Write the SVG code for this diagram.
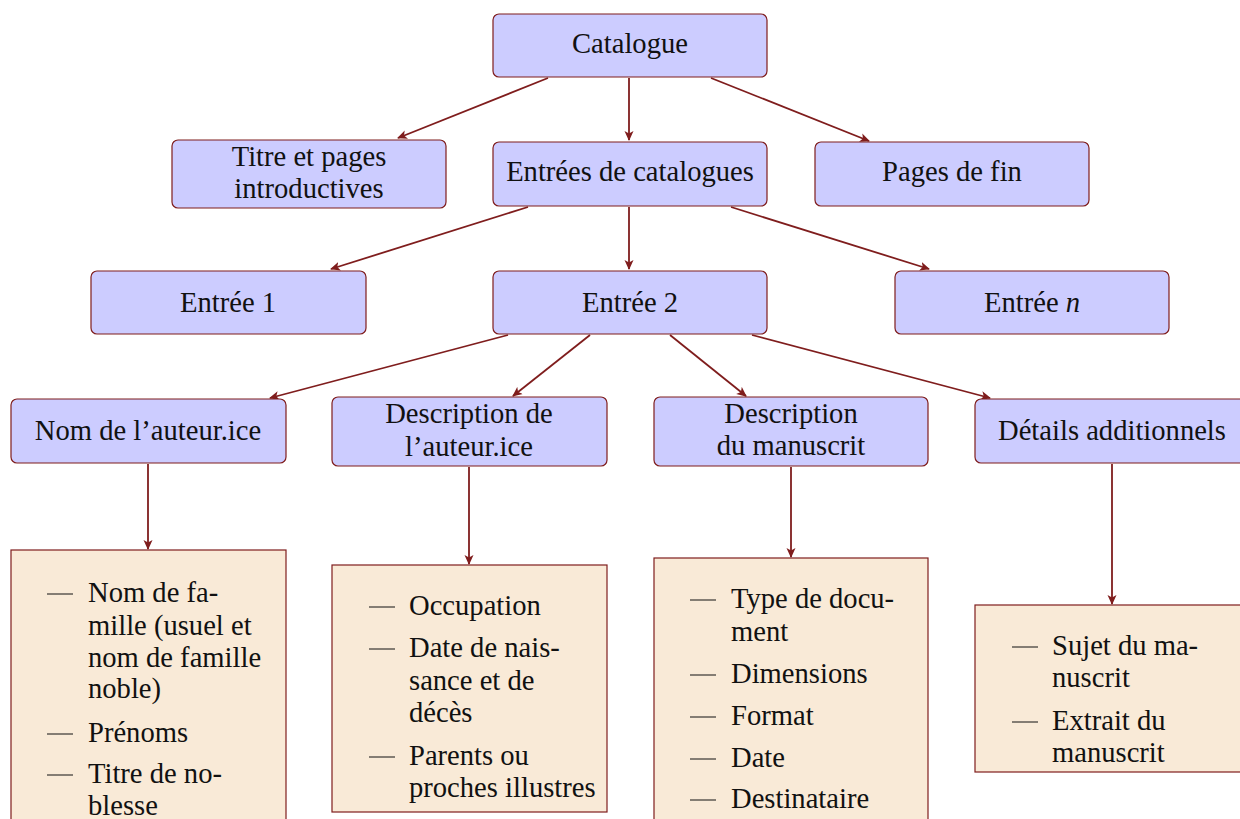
<svg xmlns="http://www.w3.org/2000/svg" width="1240" height="819" viewBox="0 0 1240 819">
<defs>
<marker id="ah" viewBox="0 0 10 10" refX="9" refY="5" markerWidth="10" markerHeight="10" markerUnits="userSpaceOnUse" orient="auto">
<path d="M0,0.5 L10,5 L0,9.5 L2.5,5 Z" fill="#7f1d1d"/>
</marker>
</defs>
<style>
.b{fill:#ccccff;stroke:#7f1d1d;stroke-width:1.2}
.o{fill:#f9ead7;stroke:#7f1d1d;stroke-width:1.2}
text{font-family:'Liberation Serif','Times New Roman',Times,'DejaVu Serif',serif;font-size:28.6px;fill:#111}
.c{text-anchor:middle}
.e{stroke:#7f1d1d;stroke-width:1.8;fill:none;marker-end:url(#ah)}
.d{stroke:#111;stroke-width:1}
</style>
<g id="connectors">
<line class="e" x1="548" y1="78" x2="398" y2="138"/>
<line class="e" x1="629" y1="78" x2="629" y2="140"/>
<line class="e" x1="711" y1="78" x2="869" y2="141"/>
<line class="e" x1="528" y1="207" x2="331" y2="269"/>
<line class="e" x1="629" y1="207" x2="629" y2="269"/>
<line class="e" x1="731" y1="207" x2="929" y2="269"/>
<line class="e" x1="508" y1="335" x2="270" y2="398"/>
<line class="e" x1="590" y1="335" x2="513" y2="396"/>
<line class="e" x1="670" y1="335" x2="746" y2="396"/>
<line class="e" x1="752" y1="335" x2="990" y2="398"/>
<line class="e" x1="148" y1="464" x2="148" y2="549"/>
<line class="e" x1="469" y1="467" x2="469" y2="564"/>
<line class="e" x1="791" y1="467" x2="791" y2="557"/>
<line class="e" x1="1112" y1="464" x2="1112" y2="604"/>
</g>
<g id="catalogue"><rect class="b" x="493" y="14" width="274" height="63" rx="6"/><text class="c" x="630" y="53">Catalogue</text></g>
<g id="titre"><rect class="b" x="172" y="140" width="274" height="68" rx="6"/><text class="c" x="309" y="166">Titre et pages</text><text class="c" x="309" y="198">introductives</text></g>
<g id="entrees"><rect class="b" x="493" y="142" width="274" height="64" rx="6"/><text class="c" x="630" y="181">Entrées de catalogues</text></g>
<g id="fin"><rect class="b" x="815" y="142" width="274" height="64" rx="6"/><text class="c" x="952" y="181">Pages de fin</text></g>
<g id="entree1"><rect class="b" x="91" y="271" width="275" height="63" rx="6"/><text class="c" x="228" y="312">Entrée 1</text></g>
<g id="entree2"><rect class="b" x="493" y="271" width="274" height="63" rx="6"/><text class="c" x="630" y="312">Entrée 2</text></g>
<g id="entreen"><rect class="b" x="895" y="271" width="274" height="63" rx="6"/><text class="c" x="1032" y="312">Entrée <tspan font-style="italic">n</tspan></text></g>
<g id="nom"><rect class="b" x="11" y="399" width="275" height="64" rx="6"/><text class="c" x="148" y="440">Nom de l’auteur.ice</text></g>
<g id="descaut"><rect class="b" x="332" y="397" width="275" height="69" rx="6"/><text class="c" x="469" y="423">Description de</text><text class="c" x="469" y="456">l’auteur.ice</text></g>
<g id="descman"><rect class="b" x="654" y="397" width="274" height="69" rx="6"/><text class="c" x="791" y="423">Description</text><text class="c" x="791" y="455">du manuscrit</text></g>
<g id="details"><rect class="b" x="975" y="399" width="275" height="64" rx="6"/><text class="c" x="1112" y="440">Détails additionnels</text></g>
<g id="list1"><rect class="o" x="11" y="550" width="275" height="280"/>
<line class="d" x1="47" y1="594" x2="73" y2="594"/><line class="d" x1="47" y1="734" x2="73" y2="734"/><line class="d" x1="47" y1="775" x2="73" y2="775"/>
<text x="88" y="602">Nom de fa-</text><text x="88" y="635">mille (usuel et</text><text x="88" y="667">nom de famille</text><text x="88" y="698">noble)</text><text x="88" y="742">Prénoms</text><text x="88" y="783">Titre de no-</text><text x="88" y="815">blesse</text></g>
<g id="list2"><rect class="o" x="332" y="565" width="275" height="247"/>
<line class="d" x1="369" y1="607" x2="395" y2="607"/><line class="d" x1="369" y1="649" x2="395" y2="649"/><line class="d" x1="369" y1="757" x2="395" y2="757"/>
<text x="409" y="615">Occupation</text><text x="409" y="657">Date de nais-</text><text x="409" y="690">sance et de</text><text x="409" y="722">décès</text><text x="409" y="765">Parents ou</text><text x="409" y="797">proches illustres</text></g>
<g id="list3"><rect class="o" x="654" y="558" width="274" height="272"/>
<line class="d" x1="690" y1="600" x2="716" y2="600"/><line class="d" x1="690" y1="675" x2="716" y2="675"/><line class="d" x1="690" y1="717" x2="716" y2="717"/><line class="d" x1="690" y1="759" x2="716" y2="759"/><line class="d" x1="690" y1="800" x2="716" y2="800"/>
<text x="731" y="608">Type de docu-</text><text x="731" y="641">ment</text><text x="731" y="683">Dimensions</text><text x="731" y="725">Format</text><text x="731" y="767">Date</text><text x="731" y="808">Destinataire</text></g>
<g id="list4"><rect class="o" x="975" y="605" width="275" height="167"/>
<line class="d" x1="1012" y1="647" x2="1038" y2="647"/><line class="d" x1="1012" y1="722" x2="1038" y2="722"/>
<text x="1052" y="655">Sujet du ma-</text><text x="1052" y="687">nuscrit</text><text x="1052" y="730">Extrait du</text><text x="1052" y="762">manuscrit</text></g>
</svg>
